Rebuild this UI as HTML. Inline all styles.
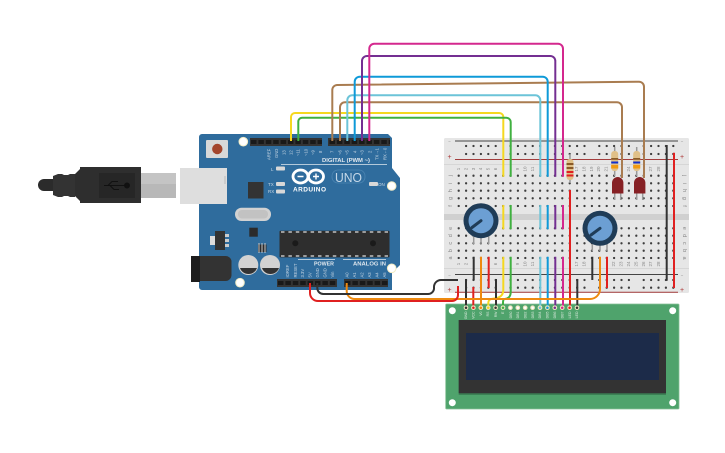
<!DOCTYPE html>
<html><head><meta charset="utf-8"><style>html,body{margin:0;padding:0;background:#fff;width:725px;height:453px;overflow:hidden}svg{display:block}text{font-family:"Liberation Sans",sans-serif}</style></head><body>
<svg width="725" height="453" viewBox="0 0 725 453" xmlns="http://www.w3.org/2000/svg">
<!-- USB plug -->
<path d="M53 179H44a6 6 0 0 0 0 12H53z" fill="#2b2b2b"/>
<path d="M53 176l5-2h4l2 1h4l2-1h5V197h-5l-2-1h-4l-2 1h-4l-5-2z" fill="#333"/>
<path d="M75 174l5-5V167H141V203H80V201l-5-5z" fill="#2e2e2e"/>
<rect x="99" y="173" width="36" height="25" fill="#262626"/>
<g stroke="#111" stroke-width="1" fill="#111"><path d="M104 185.500H127" fill="none"/><circle cx="127" cy="185.500" r="2.500"/><path d="M108 185.500l4-4h6M110 185.500l4 4h5" fill="none"/></g>
<rect x="141" y="173" width="35" height="25" fill="#c4c4c4"/><rect x="141" y="184" width="35" height="14" fill="#b8b8b8"/>
<!-- Arduino -->
<path d="M199 137a3 3 0 0 1 3-3H388l4 4V168l8 10V265l-8 8V290H202a3 3 0 0 1-3-3z" fill="#2f6c9d"/>
<rect x="180" y="168" width="47" height="36" fill="#dedede"/><path d="M225 176v8" stroke="#bbb"/>
<rect x="206" y="140" width="22" height="18" rx="1" fill="#d8d8d8"/><circle cx="217.300" cy="149" r="5.200" fill="#a3452c"/>
<g fill="#fff" stroke="#f1ebc4" stroke-width="1"><circle cx="243.300" cy="141.700" r="4.300"/><circle cx="391.700" cy="186" r="4.300"/><circle cx="391.700" cy="268.300" r="4.300"/><circle cx="240" cy="282.700" r="4.300"/></g>
<!-- headers -->
<g fill="#333"><rect x="250" y="138" width="72" height="8"/><rect x="328" y="138" width="62" height="8"/><rect x="277" y="279" width="60" height="8"/><rect x="344" y="279" width="44" height="8"/></g>
<path d="M251 142H322" stroke="#191919" stroke-width="4" stroke-dasharray="5.500 1.900"/><path d="M329.500 142H390" stroke="#191919" stroke-width="4" stroke-dasharray="5.500 1.900"/>
<path d="M278 283H337" stroke="#191919" stroke-width="4" stroke-dasharray="5.500 1.900"/><path d="M345 283H388" stroke="#191919" stroke-width="4" stroke-dasharray="5.500 1.900"/>
<g fill="#c9d7e4" font-size="4.200" text-anchor="end">
<text transform="translate(270.500 150) rotate(-90)" text-anchor="start" dx="-10">AREF</text><text transform="translate(278 150) rotate(-90)" text-anchor="start" dx="-8">GND</text><text transform="translate(285.500 150) rotate(-90)" text-anchor="start" dx="-5">13</text><text transform="translate(292.500 150) rotate(-90)" text-anchor="start" dx="-5">12</text><text transform="translate(299.500 150) rotate(-90)" text-anchor="start" dx="-6">~11</text><text transform="translate(307.500 150) rotate(-90)" text-anchor="start" dx="-6">~10</text><text transform="translate(314.500 150) rotate(-90)" text-anchor="start" dx="-5">~9</text><text transform="translate(322 150) rotate(-90)" text-anchor="start" dx="-3">8</text>
<text transform="translate(333.500 150) rotate(-90)" text-anchor="start" dx="-3">7</text><text transform="translate(341.500 150) rotate(-90)" text-anchor="start" dx="-5">~6</text><text transform="translate(348.500 150) rotate(-90)" text-anchor="start" dx="-5">~5</text><text transform="translate(356.500 150) rotate(-90)" text-anchor="start" dx="-3">4</text><text transform="translate(363.500 150) rotate(-90)" text-anchor="start" dx="-5">~3</text><text transform="translate(371.500 150) rotate(-90)" text-anchor="start" dx="-3">2</text><text transform="translate(378.500 150) rotate(-90)" text-anchor="start" dx="-10">TX→1</text><text transform="translate(386.500 150) rotate(-90)" text-anchor="start" dx="-10">RX←0</text>
<text transform="translate(289 277.500) rotate(-90)" text-anchor="start">IOREF</text><text transform="translate(297 277.500) rotate(-90)" text-anchor="start">RESET</text><text transform="translate(304 277.500) rotate(-90)" text-anchor="start">3.3V</text><text transform="translate(311.500 277.500) rotate(-90)" text-anchor="start">5V</text><text transform="translate(319 277.500) rotate(-90)" text-anchor="start">GND</text><text transform="translate(326.500 277.500) rotate(-90)" text-anchor="start">GND</text><text transform="translate(334 277.500) rotate(-90)" text-anchor="start">Vin</text>
<text transform="translate(348.500 277.500) rotate(-90)" text-anchor="start">A0</text><text transform="translate(356 277.500) rotate(-90)" text-anchor="start">A1</text><text transform="translate(363.500 277.500) rotate(-90)" text-anchor="start">A2</text><text transform="translate(371 277.500) rotate(-90)" text-anchor="start">A3</text><text transform="translate(378.500 277.500) rotate(-90)" text-anchor="start">A4</text><text transform="translate(386 277.500) rotate(-90)" text-anchor="start">A5</text>
</g>
<g fill="#dfe7ee" font-weight="bold" font-size="5.500"><text x="322" y="162" textLength="48" lengthAdjust="spacingAndGlyphs">DIGITAL (PWM ~)</text><text x="314" y="265.500" textLength="20" lengthAdjust="spacingAndGlyphs">POWER</text><text x="353" y="265.500" textLength="33" lengthAdjust="spacingAndGlyphs">ANALOG IN</text></g>
<path d="M281 164.500H387M298 259.500H335M343 259.500H386" stroke="#dfe7ee" stroke-width=".8"/>
<!-- leds -->
<g fill="#d8d8d8"><rect x="276" y="166.500" width="9" height="4" rx="1"/><rect x="276" y="182" width="9" height="4" rx="1"/><rect x="276" y="189.500" width="9" height="4" rx="1"/><rect x="369" y="182" width="9" height="4" rx="1"/></g>
<g fill="#c9d7e4" font-size="4.500"><text x="271" y="171">L</text><text x="268" y="186">TX</text><text x="268" y="193">RX</text><text x="378" y="186">ON</text></g>
<!-- logo -->
<g fill="none" stroke="#fff" stroke-width="2.800"><ellipse cx="300.500" cy="176.500" rx="7.500" ry="6.500"/><ellipse cx="316" cy="176.500" rx="7.500" ry="6.500"/></g>
<path d="M297.500 176.500h6M313 176.500h6M316 173.500v6" stroke="#fff" stroke-width="1.400"/>
<text x="293" y="191.500" fill="#fff" font-size="6.500" font-weight="bold" textLength="33">ARDUINO</text>
<rect x="332" y="170" width="33" height="13" rx="6" fill="none" stroke="#4d86b3" stroke-width=".8"/>
<text x="335" y="182" fill="#c5d8e8" font-size="13" textLength="27" lengthAdjust="spacingAndGlyphs">UNO</text>
<!-- components -->
<rect x="248" y="182" width="15.500" height="16.500" fill="#333"/>
<rect x="235" y="207.700" width="36" height="13.300" rx="6.600" fill="#d2d2d2"/><rect x="238" y="210" width="30" height="8.500" rx="4" fill="#c2c2c2"/>
<rect x="215" y="231" width="10" height="19" fill="#333"/><path d="M225 234h4v3h-4zM225 239h4v3h-4zM225 244h4v3h-4z" fill="#ccc"/><rect x="210" y="236" width="5" height="9" fill="#ddd"/>
<rect x="249.300" y="227.700" width="8.500" height="9" fill="#2b2b2b"/><rect x="258" y="244.500" width="8.500" height="7.500" fill="#2b2b2b"/><path d="M259 243v10M262 243v10M265 243v10" stroke="#ccc" stroke-width="1"/>
<rect x="279.500" y="230.700" width="110" height="26.700" rx="1" fill="#2e2e2e"/>
<path d="M281 232H388M281 256H388" stroke="#ddd" stroke-width="1.300" stroke-dasharray="3.500 3.900"/>
<circle cx="295.300" cy="243.300" r="3" fill="#1a1a1a"/><circle cx="373" cy="243.300" r="3" fill="#1a1a1a"/>
<path d="M191 256H225a6 6 0 0 1 6.500 5V275a6 6 0 0 1-6 6H191z" fill="#333"/><path d="M191 256H200V282H191z" fill="#1d1d1d"/>
<g><circle cx="248.300" cy="265" r="10" fill="#d2d2d2"/><path d="M240 268a9 9 0 0 0 17 0z" fill="#333"/><circle cx="270" cy="265" r="10" fill="#d2d2d2"/><path d="M262 268a9 9 0 0 0 17 0z" fill="#333"/></g>
<!-- breadboard -->
<rect x="444" y="138" width="245" height="155" rx="1.500" fill="#e6e6e6"/>
<rect x="444" y="164" width="245" height="1" fill="#d6d6d6"/><rect x="444" y="268" width="245" height="1" fill="#d6d6d6"/><rect x="444" y="214" width="245" height="6" fill="#d0d0d0"/>
<g stroke="#a33c3c" stroke-width="1" fill="none"><path d="M455 159.500H678M455 292.300H678"/></g>
<g stroke="#444" stroke-width="1" fill="none"><path d="M455 141H678M455 274.500H678"/></g>
<g stroke="#3d3d3d" stroke-width="2.300" stroke-linecap="round" fill="none">
<path stroke-dasharray="0 7.400 0 7.400 0 7.400 0 7.400 0 14.800" d="M466.100 146H680M466.100 154H680M466.100 280H680M466.100 287.700H680"/>
<path stroke-dasharray="0 7.400" d="M458.700 175.700H674M458.700 183.300H674M458.700 190.700H674M458.700 198.300H674M458.700 206H674M458.700 228.300H674M458.700 235.700H674M458.700 243.300H674M458.700 250.700H674M458.700 258H674"/>
</g>
<g fill="#888" font-size="4.500" text-anchor="middle">
<text x="449.500" y="143">−</text><text x="449.500" y="159" font-size="7" fill="#a33">+</text><text x="449.500" y="277">−</text><text x="449.500" y="292" font-size="7" fill="#a33">+</text><text x="682" y="143">−</text><text x="682" y="159" font-size="7" fill="#a33">+</text><text x="682" y="277">−</text><text x="682" y="292" font-size="7" fill="#a33">+</text>
<text transform="translate(452 175.700) rotate(-90)" font-size="5.500">j</text><text transform="translate(452 183.300) rotate(-90)" font-size="5.500">i</text><text transform="translate(452 190.700) rotate(-90)" font-size="5.500">h</text><text transform="translate(452 198.300) rotate(-90)" font-size="5.500">g</text><text transform="translate(452 206) rotate(-90)" font-size="5.500">f</text>
<text transform="translate(452 228.300) rotate(-90)" font-size="5.500">e</text><text transform="translate(452 235.700) rotate(-90)" font-size="5.500">d</text><text transform="translate(452 243.300) rotate(-90)" font-size="5.500">c</text><text transform="translate(452 250.700) rotate(-90)" font-size="5.500">b</text><text transform="translate(452 258) rotate(-90)" font-size="5.500">a</text>
<text transform="translate(683 175.700) rotate(90)" font-size="5.500">j</text><text transform="translate(683 183.300) rotate(90)" font-size="5.500">i</text><text transform="translate(683 190.700) rotate(90)" font-size="5.500">h</text><text transform="translate(683 198.300) rotate(90)" font-size="5.500">g</text><text transform="translate(683 206) rotate(90)" font-size="5.500">f</text>
<text transform="translate(683 228.300) rotate(90)" font-size="5.500">e</text><text transform="translate(683 235.700) rotate(90)" font-size="5.500">d</text><text transform="translate(683 243.300) rotate(90)" font-size="5.500">c</text><text transform="translate(683 250.700) rotate(90)" font-size="5.500">b</text><text transform="translate(683 258) rotate(90)" font-size="5.500">a</text>
<text transform="translate(460 169) rotate(-90)">1</text><text transform="translate(467.400 169) rotate(-90)">2</text><text transform="translate(474.800 169) rotate(-90)">3</text><text transform="translate(482.200 169) rotate(-90)">4</text><text transform="translate(489.600 169) rotate(-90)">5</text><text transform="translate(497 169) rotate(-90)">6</text><text transform="translate(519 169) rotate(-90)">9</text><text transform="translate(526.500 169) rotate(-90)">10</text><text transform="translate(534 169) rotate(-90)">11</text><text transform="translate(578 169) rotate(-90)">17</text><text transform="translate(585.500 169) rotate(-90)">18</text><text transform="translate(593 169) rotate(-90)">19</text><text transform="translate(600 169) rotate(-90)">20</text><text transform="translate(607.500 169) rotate(-90)">21</text><text transform="translate(630 169) rotate(-90)">24</text><text transform="translate(652 169) rotate(-90)">27</text><text transform="translate(660 169) rotate(-90)">28</text>
<text transform="translate(460 264) rotate(-90)">1</text><text transform="translate(467.400 264) rotate(-90)">2</text><text transform="translate(497 264) rotate(-90)">6</text><text transform="translate(519 264) rotate(-90)">9</text><text transform="translate(526.500 264) rotate(-90)">10</text><text transform="translate(534 264) rotate(-90)">11</text><text transform="translate(578 264) rotate(-90)">17</text><text transform="translate(585.500 264) rotate(-90)">18</text><text transform="translate(615 264) rotate(-90)">22</text><text transform="translate(622.500 264) rotate(-90)">23</text><text transform="translate(630 264) rotate(-90)">24</text><text transform="translate(637.500 264) rotate(-90)">25</text><text transform="translate(645 264) rotate(-90)">26</text><text transform="translate(652 264) rotate(-90)">27</text><text transform="translate(660 264) rotate(-90)">28</text>
</g>
<!-- LCD -->
<rect x="445.700" y="304" width="233.300" height="105" rx="1" fill="#4fa36c" stroke="#86c096" stroke-width=".8"/>
<rect x="458.700" y="320" width="207.300" height="75" fill="#3c8155"/><rect x="458.700" y="320" width="207.300" height="73.300" fill="#333"/>
<rect x="466" y="333" width="193" height="47" fill="#1c2b49"/>
<g fill="#fff"><circle cx="452.300" cy="310.700" r="3.500"/><circle cx="672.700" cy="310.700" r="3.500"/><circle cx="452.300" cy="402.700" r="3.500"/><circle cx="672.700" cy="402.700" r="3.500"/></g>
<g fill="#d9e8dc" font-size="3.500"><text transform="translate(467 311.500) rotate(-90)" text-anchor="end">GND</text><text transform="translate(474.500 311.500) rotate(-90)" text-anchor="end">VCC</text><text transform="translate(482 311.500) rotate(-90)" text-anchor="end">V0</text><text transform="translate(489 311.500) rotate(-90)" text-anchor="end">RS</text><text transform="translate(497 311.500) rotate(-90)" text-anchor="end">RW</text><text transform="translate(504 311.500) rotate(-90)" text-anchor="end">E</text><text transform="translate(512 311.500) rotate(-90)" text-anchor="end">DB0</text><text transform="translate(519 311.500) rotate(-90)" text-anchor="end">DB1</text><text transform="translate(526.500 311.500) rotate(-90)" text-anchor="end">DB2</text><text transform="translate(534 311.500) rotate(-90)" text-anchor="end">DB3</text><text transform="translate(541 311.500) rotate(-90)" text-anchor="end">DB4</text><text transform="translate(548.500 311.500) rotate(-90)" text-anchor="end">DB5</text><text transform="translate(556 311.500) rotate(-90)" text-anchor="end">DB6</text><text transform="translate(563.500 311.500) rotate(-90)" text-anchor="end">DB7</text><text transform="translate(571 311.500) rotate(-90)" text-anchor="end">LED</text><text transform="translate(578 311.500) rotate(-90)" text-anchor="end">LED</text></g>
<!-- pots -->
<g stroke="#999" stroke-width="1.500"><path d="M473.700 236V244M481 236V244M488.700 236V244M592.300 244V251M600 244V251M607 244V251"/></g>
<circle cx="481" cy="220.700" r="17.500" fill="#1f3c57"/><circle cx="481" cy="220.700" r="12.500" fill="#6c9fd3"/><path d="M481 220.700L472 227.500" stroke="#1f3c57" stroke-width="3" stroke-linecap="round"/>
<circle cx="600" cy="228.300" r="17.500" fill="#1f3c57"/><circle cx="600" cy="228.300" r="12.500" fill="#6c9fd3"/><path d="M600 228.300L591 235" stroke="#1f3c57" stroke-width="3" stroke-linecap="round"/>
<!-- resistors -->
<g stroke="#999" stroke-width="1.500"><path d="M570 154V183M614.700 147V176M636.700 147V176M614.700 190V200M620.700 190V200M636.700 190V200M642.700 190V200"/></g>
<rect x="566.500" y="159" width="7" height="21" rx="3" fill="#e0c088"/><rect x="566.500" y="163" width="7" height="2" fill="#8a5a28"/><rect x="566.500" y="167" width="7" height="2" fill="#8a5a28"/><rect x="566.500" y="171" width="7" height="2" fill="#e02020"/><rect x="566.500" y="174.500" width="7" height="2" fill="#e02020"/>
<rect x="611.200" y="151" width="7" height="20" rx="3" fill="#e0c088"/><rect x="611.200" y="158" width="7" height="1.800" fill="#8a5a28"/><rect x="611.200" y="161.500" width="7" height="2" fill="#1030d0"/><rect x="611.200" y="165" width="7" height="3.500" fill="#f09a10"/>
<rect x="633.200" y="151" width="7" height="20" rx="3" fill="#e0c088"/><rect x="633.200" y="158" width="7" height="1.800" fill="#8a5a28"/><rect x="633.200" y="161.500" width="7" height="2" fill="#1030d0"/><rect x="633.200" y="165" width="7" height="3.500" fill="#f09a10"/>
<path d="M612 193.500V183a5.700 6 0 0 1 11.400 0V193.500z" fill="#862024"/><path d="M634 193.500V183a5.700 6 0 0 1 11.400 0V193.500z" fill="#862024"/>
<!-- wires -->
<g fill="none" stroke-width="2">
<path stroke="#f5d820" d="M291 141V117a4 4 0 0 1 4-4H499a4 4 0 0 1 4.300 4V176.700M503.300 205V229.300M503.300 256.700V290c0 5-3 7-6 8l-6 1c-2 .5-3 2-3 4V306"/>
<path stroke="#40b040" d="M298.300 141V122a4 4 0 0 1 4-4.300H506a4.500 4.500 0 0 1 4.700 4.500V176.700M510.700 205V229.300M510.700 256.700V292c0 5-3 7-6 7-1.500 0-1.700 2-1.700 4V306"/>
<path stroke="#a97c50" d="M332.300 141V90a5 5 0 0 1 5-5L639 81.700a5 5 0 0 1 5 5V178"/>
<path stroke="#a97c50" d="M340 141V107a5 5 0 0 1 5-4.700H617a5 5 0 0 1 5 5V178"/>
<path stroke="#6cc4d8" d="M347.300 141V100a5 5 0 0 1 5-4.700H535a5 5 0 0 1 5.300 5V176.700M540.300 205V229.300M540.300 256.700V306"/>
<path stroke="#0e9ad8" d="M354.700 141V81.700a5 5 0 0 1 5-5H542.700a5 5 0 0 1 5 5V176.700M547.700 205V229.300M547.700 256.700V306"/>
<path stroke="#742f92" d="M362 141V61a5 5 0 0 1 5-5H550.300a5 5 0 0 1 5 5V176.700M555.300 205V229.300M555.300 256.700V306"/>
<path stroke="#d4288e" d="M369.300 141V49a5 5 0 0 1 5-5.300H558a5 5 0 0 1 5 5V176.700M563 205V229.300M563 256.700V306"/>
<path stroke="#e02020" d="M570 190V306M488.700 256.700V288M607 256.700V288M674 152.700V288"/>
<path stroke="#e02020" d="M473.300 287V306"/>
<path stroke="#333" d="M466 279V306M473.700 256.700V280M496 279V306M577.300 279V306M592.300 256.700V280M666.700 145V280.700"/>
<path stroke="#ee8a10" d="M481 256.700V306"/>
<path stroke="#ee8a10" d="M346.700 283V291a8 8 0 0 0 8 8H590a10 10 0 0 0 10-10V256.700"/>
<path stroke="#e02020" d="M310 283V293a8 8 0 0 0 8 8H452a6 6 0 0 0 6-6V286"/>
<path stroke="#333" d="M317.300 283V288a6 6 0 0 0 6 6H428a6 6 0 0 0 6-5V287a7 7 0 0 1 7-7H458"/>
</g>
<!-- LCD pin rings -->
<g stroke="#ece6c0" stroke-width="1.100">
<circle cx="466" cy="307.700" r="1.800" fill="#333"/><circle cx="473.400" cy="307.700" r="1.800" fill="#e02020"/><circle cx="480.800" cy="307.700" r="1.800" fill="#ee8a10"/><circle cx="488.200" cy="307.700" r="1.800" fill="#f5d820"/><circle cx="495.600" cy="307.700" r="1.800" fill="#333"/><circle cx="503" cy="307.700" r="1.800" fill="#40b040"/><circle cx="510.400" cy="307.700" r="1.800" fill="#fff"/><circle cx="517.800" cy="307.700" r="1.800" fill="#fff"/><circle cx="525.200" cy="307.700" r="1.800" fill="#fff"/><circle cx="532.600" cy="307.700" r="1.800" fill="#fff"/><circle cx="540" cy="307.700" r="1.800" fill="#6cc4d8"/><circle cx="547.400" cy="307.700" r="1.800" fill="#0e9ad8"/><circle cx="554.800" cy="307.700" r="1.800" fill="#742f92"/><circle cx="562.200" cy="307.700" r="1.800" fill="#d4288e"/><circle cx="569.600" cy="307.700" r="1.800" fill="#e02020"/><circle cx="577" cy="307.700" r="1.800" fill="#333"/>
</g>
</svg>
</body></html>
